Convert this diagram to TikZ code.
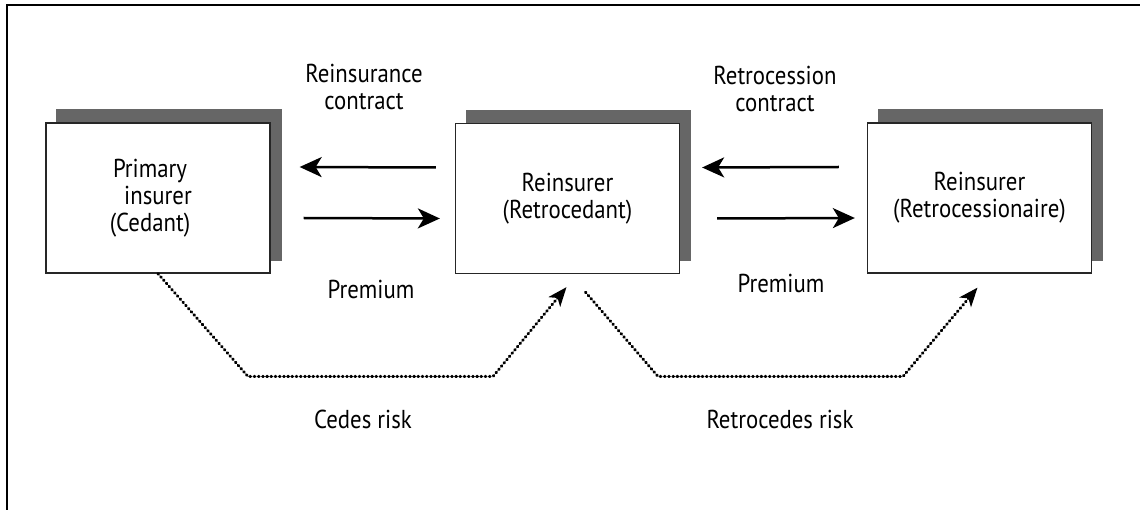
\documentclass[tikz,border=0pt]{standalone}
\usepackage{fontspec}
\setmainfont[FakeStretch=0.88]{PT Sans}
\usetikzlibrary{arrows.meta,calc,backgrounds}
\begin{document}
\begin{tikzpicture}[x=1bp,y=-1bp,
  box/.style={draw=black!85, line width=1.3bp, fill=white, minimum width=224bp, minimum height=150bp, inner sep=0pt, align=center, font=\fontsize{26}{27}\selectfont},
  shadowbox/.style={fill=black!60, draw=none},
  lbl/.style={align=center, font=\fontsize{26}{27}\selectfont, inner sep=0pt},
  solidarrow/.style={line width=2.5bp, -{Stealth[length=22bp,width=20bp,inset=6bp]}},
  riskarrow/.style={line width=3bp, line cap=round, dash pattern=on 0.8bp off 3.4bp, -{Stealth[length=19bp,width=15bp,inset=5bp,line cap=butt]}}]
\useasboundingbox (0,0) rectangle (1140,510);
\draw[line width=2bp] (6.7,510) -- (6.7,5) -- (1140,5);

\node[box] (b1) at (158,198) {Primary\hspace*{16bp}\\insurer\hspace*{16bp}\\(Cedant)\hspace*{16bp}};
\node[box] (b2) at (567.5,198.5) {Reinsurer\\(Retrocedant)};
\node[box] (b3) at (979.5,198) {Reinsurer\\(Retrocessionaire)};

\begin{scope}[on background layer]
  \foreach \b in {b1,b2,b3}{
    \fill[shadowbox] ([xshift=11bp,yshift=13bp]\b.south west) rectangle ([xshift=11bp,yshift=13bp]\b.north east);
  }
\end{scope}

\draw[solidarrow] ($(b2.west)+(-19,-31)$) -- ($(b1.east)+(29,-31)$);
\draw[solidarrow] ($(b1.east)+(33,20)$) -- ($(b2.west)+(-15,20)$);
\draw[solidarrow] ($(b3.west)+(-28,-31)$) -- ($(b2.east)+(22,-31)$);
\draw[solidarrow] ($(b2.east)+(37,20)$) -- ($(b3.west)+(-12,20)$);

\coordinate (r1a) at (248,376.5);
\coordinate (r1b) at (493,376.5);
\coordinate (r2a) at (658,376.5);
\coordinate (r2b) at (903,376.5);
\draw[riskarrow] (b1.south) -- (r1a) -- (r1b) -- ($(b2.south)+(-1,13)$);
\draw[riskarrow] ($(b2.south)+(18,18)$) -- (r2a) -- (r2b) -- ($(b3.south)+(-2,14)$);

\node[lbl] (t1) at (364,87) {Reinsurance\\contract};
\node[lbl] (t2) at (775,89) {Retrocession\\contract};
\node[lbl] (p1) at (371,289) {Premium};
\node[lbl] (p2) at (781,283) {Premium};
\node[lbl] (c1) at (363,419) {Cedes risk};
\node[lbl] (c2) at (780,419) {Retrocedes risk};
\end{tikzpicture}
\end{document}
